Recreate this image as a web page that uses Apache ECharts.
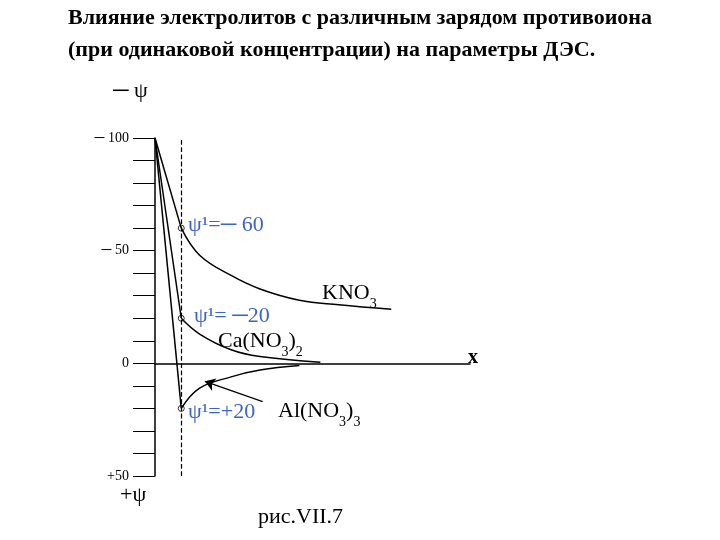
<!DOCTYPE html>
<html>
<head>
<meta charset="utf-8">
<script src="https://cdn.jsdelivr.net/npm/echarts@6/dist/echarts.min.js"></script>
<style>html,body{margin:0;background:#fff}#chart{width:720px;height:540px}</style>
</head>
<body>
<div id="chart"></div>
<script>
// distance along x (arbitrary units) and potential values (-ψ up)
const startX = [0];
const startY = [100];
const kno3X = [1, 1.7, 2.9, 4, 5.5, 7, 9];
const kno3Y = [60, 48, 39, 33, 28, 26, 24];
const caX = [1, 1.7, 2.9, 4, 6.3];
const caY = [20, 13, 6, 3, 0.5];
const alX = [1, 1.7, 2.9, 4, 5.5];
const alY = [-20, -11, -6, -3, -1];
const psi1X = [1, 1, 1];
const psi1Y = [60, 20, -20];
const yTickLabels = { 100: '─ 100', 50: '─ 50', 0: '0', '-50': '+50' };

const chart = echarts.init(document.getElementById('chart'));
const pairs = (xs, ys) => xs.map((x, i) => [x, ys[i]]);
const line = (xs, ys, smooth, extra) => Object.assign({
  type: 'line', smooth, showSymbol: false,
  lineStyle: { color: '#000', width: 1.5 }, data: pairs(xs, ys)
}, extra || {});
// straight segment from the surface to the ψ1 point
const segment = i => line([startX[0], psi1X[i]], [startY[0], psi1Y[i]], false);

const serif = 'Liberation Serif';
const blue = '#3d64c8';
const sub = { fontFamily: serif, fontSize: 14, verticalAlign: 'bottom', padding: [0, 0, -7, 0] };

chart.setOption({
  animation: false,
  grid: { left: 155, right: 250, top: 138, bottom: 64 },
  xAxis: {
    type: 'value', min: 0, max: 12,
    axisLine: { onZero: true, lineStyle: { color: '#000', width: 1.5 } },
    axisTick: { show: false }, axisLabel: { show: false }, splitLine: { show: false }
  },
  yAxis: {
    type: 'value', min: -50, max: 100, interval: 10,
    axisLine: { show: true, lineStyle: { color: '#000', width: 1.5 } },
    axisTick: { show: true, length: 22, lineStyle: { color: '#000' } },
    axisLabel: {
      margin: 26, fontFamily: serif, fontSize: 14, color: '#000',
      formatter: v => yTickLabels[v] || ''
    },
    splitLine: { show: false }
  },
  series: [
    segment(0), segment(1), segment(2),
    line(kno3X, kno3Y, 0.4, {
      markLine: {
        silent: true, symbol: 'none', label: { show: false },
        lineStyle: { color: '#000', type: 'dashed', width: 1.2 },
        data: [{ xAxis: 1 }]
      }
    }),
    line(caX, caY, 0.4),
    line(alX, alY, 0.4, {
      markLine: {
        silent: true, symbol: ['none', 'arrow'], symbolSize: 10, label: { show: false },
        lineStyle: { color: '#000', type: 'solid', width: 1.2 },
        data: [[{ coord: [4.1, -17] }, { coord: [1.9, -8] }]]
      }
    }),
    {
      type: 'scatter', symbol: 'circle', symbolSize: 6,
      itemStyle: { color: '#fff', borderColor: '#000', borderWidth: 1 },
      data: pairs(psi1X, psi1Y)
    }
  ],
  graphic: [
    { type: 'text', left: 'center', top: 2, style: {
      text: 'Влияние электролитов с различным зарядом противоиона\n(при одинаковой концентрации) на параметры ДЭС.',
      font: 'bold 22px "Liberation Serif"', fill: '#000', align: 'center', lineHeight: 32 } },
    { type: 'text', left: 113, top: 80, style: { text: '─ ψ', font: '22px "Liberation Serif"', fill: '#000' } },
    { type: 'text', left: 120, top: 484, style: { text: '+ψ', font: '22px "Liberation Serif"', fill: '#000' } },
    { type: 'text', left: 468, top: 348, style: { text: 'x', font: 'bold 20px "Liberation Serif"', fill: '#000' } },
    { type: 'text', left: 258, top: 506, style: { text: 'рис.VII.7', font: '22px "Liberation Serif"', fill: '#000' } },
    { type: 'text', left: 188, top: 214, style: { text: 'ψ¹=─ 60', font: '22px "Liberation Serif"', fill: blue } },
    { type: 'text', left: 194, top: 305, style: { text: 'ψ¹= ─20', font: '22px "Liberation Serif"', fill: blue } },
    { type: 'text', left: 188, top: 401, style: { text: 'ψ¹=+20', font: '22px "Liberation Serif"', fill: blue } },
    { type: 'text', left: 322, top: 282, style: { text: 'KNO{s|3}', font: '22px "Liberation Serif"', fill: '#000', rich: { s: sub } } },
    { type: 'text', left: 218, top: 330, style: { text: 'Ca(NO{s|3}){s|2}', font: '22px "Liberation Serif"', fill: '#000', rich: { s: sub } } },
    { type: 'text', left: 278, top: 400, style: { text: 'Al(NO{s|3}){s|3}', font: '22px "Liberation Serif"', fill: '#000', rich: { s: sub } } }
  ]
});
</script>
</body>
</html>
